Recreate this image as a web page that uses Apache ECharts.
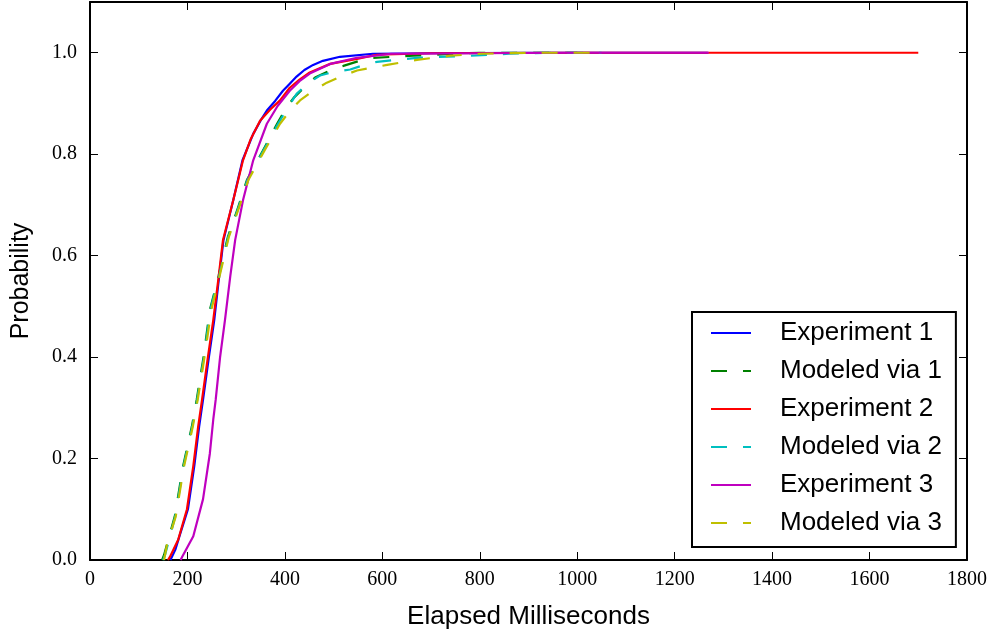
<!DOCTYPE html>
<html><head><meta charset="utf-8">
<script src="https://cdn.jsdelivr.net/npm/echarts@6/dist/echarts.min.js"></script>
<style>html,body{margin:0;padding:0;background:#fff}#c{width:995px;height:635px}</style>
</head><body><div id="c"></div>
<script>
// Data: [elapsed ms, cumulative probability]
const exp1 = [[165,0],[175,0.02],[183,0.045],[201,0.1],[214,0.185],[224,0.263],[232,0.316],[244,0.40],[255,0.473],[264,0.55],[274,0.631],[294,0.709],[313,0.788],[335,0.84],[350,0.866],[363,0.886],[380,0.905],[396,0.925],[410,0.939],[424,0.953],[440,0.966],[458,0.976],[478,0.984],[513,0.992],[581,0.998],[700,0.999],[900,1.0],[1268,1.0]];
const mod1 = [[148,0],[152,0.01],[174,0.086],[191,0.185],[209,0.263],[219,0.316],[233,0.40],[246,0.493],[264,0.56],[283,0.637],[304,0.695],[322,0.749],[355,0.807],[384,0.86],[402,0.89],[418,0.911],[440,0.932],[462,0.951],[490,0.964],[520,0.974],[550,0.983],[581,0.99],[663,0.994],[730,0.997],[800,1.0],[1000,1.0]];
const exp2 = [[160,0],[164,0.006],[181,0.04],[199,0.1],[212,0.185],[222,0.263],[230,0.316],[242,0.40],[253,0.473],[263,0.55],[273,0.631],[294,0.709],[314,0.788],[330,0.83],[349,0.866],[370,0.888],[390,0.906],[410,0.931],[430,0.947],[451,0.961],[493,0.978],[548,0.988],[589,0.996],[700,0.999],[1000,1.0],[1460,1.0],[1700,1.0]];
const mod2 = [[150,0],[154,0.01],[175,0.086],[192,0.185],[210,0.263],[220,0.316],[234,0.40],[247,0.493],[265,0.56],[284,0.637],[305,0.695],[323,0.749],[356,0.807],[386,0.86],[405,0.89],[424,0.919],[448,0.94],[472,0.955],[500,0.962],[534,0.967],[560,0.975],[589,0.982],[671,0.99],[780,0.994],[860,0.998],[950,1.0],[1050,1.0]];
const exp3 = [[186,0],[189,0.006],[212,0.047],[232,0.12],[246,0.21],[253,0.277],[258,0.316],[267,0.40],[277,0.473],[288,0.56],[298,0.631],[314,0.709],[335,0.788],[363,0.86],[385,0.895],[410,0.925],[430,0.944],[451,0.959],[493,0.978],[548,0.99],[618,0.998],[800,0.999],[1000,1.0],[1270,1.0]];
const mod3 = [[152,0],[158,0.03],[176,0.086],[193,0.185],[211,0.263],[221,0.316],[235,0.40],[249,0.493],[266,0.56],[285,0.637],[306,0.695],[325,0.749],[358,0.807],[390,0.86],[410,0.885],[431,0.906],[458,0.925],[486,0.941],[515,0.953],[548,0.965],[610,0.976],[671,0.986],[739,0.994],[804,0.998],[900,1.0],[1050,1.0]];

const names = ['Experiment 1','Modeled via 1','Experiment 2','Modeled via 2','Experiment 3','Modeled via 3'];
const colors = ['#0000ff','#008000','#ff0000','#00bfbf','#bf00bf','#bfbf00'];
const datasets = [exp1, mod1, exp2, mod2, exp3, mod3];
const dashed = [false, true, false, true, false, true];

const xTicks = {min:0, max:1800, interval:200};
const yTicks = {min:0, max:1.1, interval:0.2};

const chart = echarts.init(document.getElementById('c'), null, {renderer:'canvas'});
const serifFont = 'Liberation Serif';
const sansFont = 'Liberation Sans';
const tick = {show:true, inside:true, length:8, lineStyle:{color:'#000', width:1}};
const line = {show:true, onZero:false, lineStyle:{color:'#000', width:2}};

chart.setOption({
  animation:false,
  backgroundColor:'#fff',
  grid:{left:90, right:28, top:2, bottom:74, containLabel:false},
  xAxis:[
    {type:'value', min:xTicks.min, max:xTicks.max, interval:xTicks.interval, position:'bottom',
     axisLine:line, axisTick:tick, splitLine:{show:false},
     axisLabel:{color:'#000', fontFamily:serifFont, fontSize:20, margin:10, formatter:v => String(v)},
     name:'Elapsed Milliseconds', nameLocation:'middle', nameGap:44,
     nameTextStyle:{color:'#000', fontFamily:sansFont, fontSize:26}},
    {type:'value', min:xTicks.min, max:xTicks.max, interval:xTicks.interval, position:'top',
     axisLine:line, axisTick:tick, axisLabel:{show:false}, splitLine:{show:false}}
  ],
  yAxis:[
    {type:'value', min:yTicks.min, max:yTicks.max, interval:yTicks.interval, position:'left',
     axisLine:line, axisTick:tick, splitLine:{show:false},
     axisLabel:{color:'#000', fontFamily:serifFont, fontSize:20, margin:13, showMaxLabel:false,
       formatter:v => v.toFixed(1)},
     name:'Probability', nameLocation:'middle', nameGap:56, nameRotate:90,
     nameTextStyle:{color:'#000', fontFamily:sansFont, fontSize:25}},
    {type:'value', min:yTicks.min, max:yTicks.max, interval:yTicks.interval, position:'right',
     axisLine:line, axisTick:tick, axisLabel:{show:false}, splitLine:{show:false}}
  ],
  legend:{
    orient:'vertical', left:692, top:312,
    data:names,
    itemWidth:40, itemHeight:14, itemGap:12,
    padding:[8,14,11,18],
    borderColor:'#000', borderWidth:2, backgroundColor:'#fff',
    itemStyle:{opacity:0},
    textStyle:{color:'#000', fontFamily:sansFont, fontSize:26, padding:[0,0,0,24]}
  },
  series: datasets.map((d,i)=>({
    name:names[i], type:'line', data:d, xAxisIndex:0, yAxisIndex:0,
    showSymbol:false, symbol:'none', smooth:false, clip:true,
    color:colors[i],
    lineStyle:{color:colors[i], width:2.2, type: dashed[i] ? [16,16] : 'solid'},
    z: 2
  }))
});
</script></body></html>
